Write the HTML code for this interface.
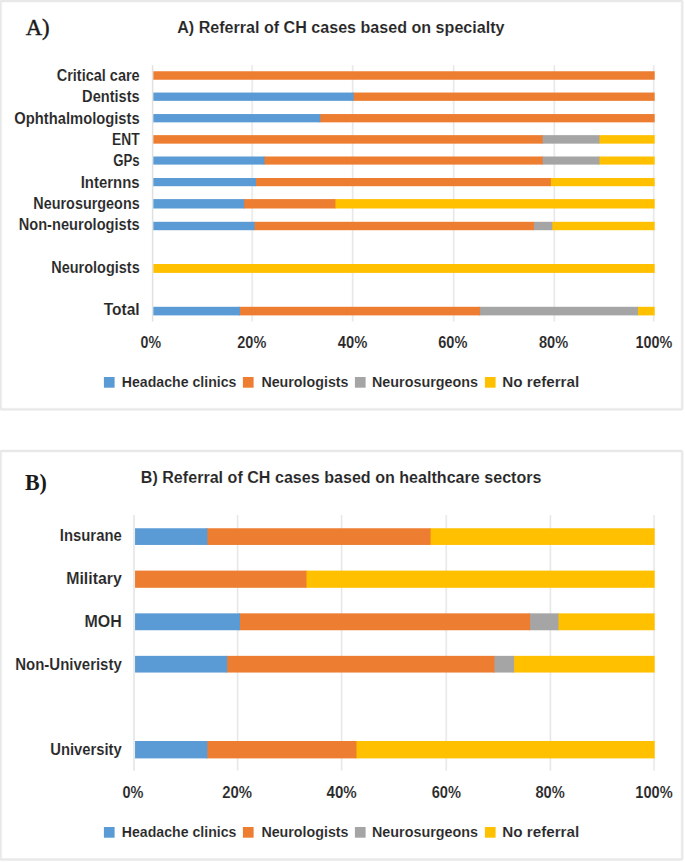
<!DOCTYPE html>
<html lang="en"><head><meta charset="utf-8"><title>Referral of CH cases</title>
<style>
html,body{margin:0;padding:0;background:#fff;}
body{width:685px;height:862px;overflow:hidden;}
svg{display:block;}
</style></head>
<body>
<svg width="685" height="862" viewBox="0 0 685 862">
<rect x="0" y="0" width="685" height="862" fill="#ffffff"/>
<g id="frames-and-grid">
<rect x="0.6" y="1.0" width="681.6" height="408.3" rx="0.8" fill="#fff" stroke="#F6F6F6" stroke-width="3.2"/>
<rect x="0.6" y="1.0" width="681.6" height="408.3" rx="0.8" fill="none" stroke="#E8E8E8" stroke-width="1.8"/>
<rect x="0.6" y="451.0" width="681.6" height="408.5" rx="0.8" fill="#fff" stroke="#F6F6F6" stroke-width="3.2"/>
<rect x="0.6" y="451.0" width="681.6" height="408.5" rx="0.8" fill="none" stroke="#E8E8E8" stroke-width="1.8"/>
<line x1="152.65" y1="65.10" x2="152.65" y2="321.70" stroke="#F7F7F7" stroke-width="2.4"/>
<line x1="152.65" y1="65.50" x2="152.65" y2="321.30" stroke="#DDDDDE" stroke-width="1.0"/>
<line x1="252.10" y1="65.10" x2="252.10" y2="321.70" stroke="#F7F7F7" stroke-width="2.4"/>
<line x1="252.10" y1="65.50" x2="252.10" y2="321.30" stroke="#E5E5E6" stroke-width="1.0"/>
<line x1="352.70" y1="65.10" x2="352.70" y2="321.70" stroke="#F7F7F7" stroke-width="2.4"/>
<line x1="352.70" y1="65.50" x2="352.70" y2="321.30" stroke="#E5E5E6" stroke-width="1.0"/>
<line x1="453.70" y1="65.10" x2="453.70" y2="321.70" stroke="#F7F7F7" stroke-width="2.4"/>
<line x1="453.70" y1="65.50" x2="453.70" y2="321.30" stroke="#E5E5E6" stroke-width="1.0"/>
<line x1="554.30" y1="65.10" x2="554.30" y2="321.70" stroke="#F7F7F7" stroke-width="2.4"/>
<line x1="554.30" y1="65.50" x2="554.30" y2="321.30" stroke="#E5E5E6" stroke-width="1.0"/>
<line x1="653.70" y1="65.10" x2="653.70" y2="321.70" stroke="#F7F7F7" stroke-width="2.4"/>
<line x1="653.70" y1="65.50" x2="653.70" y2="321.30" stroke="#E5E5E6" stroke-width="1.0"/>
<line x1="134.00" y1="514.80" x2="134.00" y2="770.80" stroke="#F7F7F7" stroke-width="2.4"/>
<line x1="134.00" y1="515.20" x2="134.00" y2="770.40" stroke="#DDDDDE" stroke-width="1.0"/>
<line x1="237.60" y1="514.80" x2="237.60" y2="770.80" stroke="#F7F7F7" stroke-width="2.4"/>
<line x1="237.60" y1="515.20" x2="237.60" y2="770.40" stroke="#E5E5E6" stroke-width="1.0"/>
<line x1="341.60" y1="514.80" x2="341.60" y2="770.80" stroke="#F7F7F7" stroke-width="2.4"/>
<line x1="341.60" y1="515.20" x2="341.60" y2="770.40" stroke="#E5E5E6" stroke-width="1.0"/>
<line x1="446.20" y1="514.80" x2="446.20" y2="770.80" stroke="#F7F7F7" stroke-width="2.4"/>
<line x1="446.20" y1="515.20" x2="446.20" y2="770.40" stroke="#E5E5E6" stroke-width="1.0"/>
<line x1="550.40" y1="514.80" x2="550.40" y2="770.80" stroke="#F7F7F7" stroke-width="2.4"/>
<line x1="550.40" y1="515.20" x2="550.40" y2="770.40" stroke="#E5E5E6" stroke-width="1.0"/>
<line x1="654.00" y1="514.80" x2="654.00" y2="770.80" stroke="#F7F7F7" stroke-width="2.4"/>
<line x1="654.00" y1="515.20" x2="654.00" y2="770.40" stroke="#E5E5E6" stroke-width="1.0"/>
</g>
<g id="bars">
<rect x="153.35" y="71.25" width="501.35" height="8.50" fill="#ED7D31"/>
<rect x="352.78" y="92.55" width="301.92" height="8.30" fill="#ED7D31"/>
<rect x="153.35" y="92.55" width="200.33" height="8.30" fill="#5B9BD5"/>
<rect x="319.32" y="114.05" width="335.38" height="8.30" fill="#ED7D31"/>
<rect x="153.35" y="114.05" width="166.87" height="8.30" fill="#5B9BD5"/>
<rect x="598.56" y="135.15" width="56.14" height="8.50" fill="#FFC000"/>
<rect x="541.77" y="135.15" width="57.69" height="8.50" fill="#A5A5A5"/>
<rect x="153.35" y="135.15" width="389.32" height="8.50" fill="#ED7D31"/>
<rect x="598.56" y="156.50" width="56.14" height="8.10" fill="#FFC000"/>
<rect x="541.77" y="156.50" width="57.69" height="8.10" fill="#A5A5A5"/>
<rect x="263.58" y="156.50" width="279.09" height="8.10" fill="#ED7D31"/>
<rect x="153.35" y="156.50" width="111.13" height="8.10" fill="#5B9BD5"/>
<rect x="549.95" y="178.00" width="104.75" height="8.20" fill="#FFC000"/>
<rect x="255.10" y="178.00" width="295.75" height="8.20" fill="#ED7D31"/>
<rect x="153.35" y="178.00" width="102.65" height="8.20" fill="#5B9BD5"/>
<rect x="334.52" y="199.10" width="320.18" height="9.40" fill="#FFC000"/>
<rect x="243.31" y="199.10" width="92.11" height="9.40" fill="#ED7D31"/>
<rect x="153.35" y="199.10" width="90.86" height="9.40" fill="#5B9BD5"/>
<rect x="551.40" y="221.80" width="103.30" height="8.40" fill="#FFC000"/>
<rect x="533.09" y="221.80" width="19.21" height="8.40" fill="#A5A5A5"/>
<rect x="253.69" y="221.80" width="280.30" height="8.40" fill="#ED7D31"/>
<rect x="153.35" y="221.80" width="101.24" height="8.40" fill="#5B9BD5"/>
<rect x="153.35" y="264.00" width="501.35" height="8.90" fill="#FFC000"/>
<rect x="636.99" y="306.80" width="17.71" height="8.60" fill="#FFC000"/>
<rect x="479.21" y="306.80" width="158.68" height="8.60" fill="#A5A5A5"/>
<rect x="239.09" y="306.80" width="241.01" height="8.60" fill="#ED7D31"/>
<rect x="153.35" y="306.80" width="86.64" height="8.60" fill="#5B9BD5"/>
<rect x="103.90" y="377.00" width="10.70" height="10.70" fill="#5B9BD5"/>
<rect x="242.90" y="377.00" width="10.70" height="10.70" fill="#ED7D31"/>
<rect x="354.90" y="377.00" width="10.70" height="10.70" fill="#A5A5A5"/>
<rect x="484.90" y="377.00" width="10.70" height="10.70" fill="#FFC000"/>
<rect x="429.68" y="528.25" width="225.02" height="16.70" fill="#FFC000"/>
<rect x="206.50" y="528.25" width="224.08" height="16.70" fill="#ED7D31"/>
<rect x="135.05" y="528.25" width="72.35" height="16.70" fill="#5B9BD5"/>
<rect x="305.61" y="570.60" width="349.09" height="17.20" fill="#FFC000"/>
<rect x="135.05" y="570.60" width="171.46" height="17.20" fill="#ED7D31"/>
<rect x="557.60" y="613.35" width="97.10" height="16.90" fill="#FFC000"/>
<rect x="529.21" y="613.35" width="29.29" height="16.90" fill="#A5A5A5"/>
<rect x="239.10" y="613.35" width="291.01" height="16.90" fill="#ED7D31"/>
<rect x="135.05" y="613.35" width="104.95" height="16.90" fill="#5B9BD5"/>
<rect x="513.19" y="655.85" width="141.51" height="16.70" fill="#FFC000"/>
<rect x="493.59" y="655.85" width="20.50" height="16.70" fill="#A5A5A5"/>
<rect x="226.31" y="655.85" width="268.18" height="16.70" fill="#ED7D31"/>
<rect x="135.05" y="655.85" width="92.16" height="16.70" fill="#5B9BD5"/>
<rect x="355.58" y="741.00" width="299.12" height="17.40" fill="#FFC000"/>
<rect x="206.50" y="741.00" width="149.98" height="17.40" fill="#ED7D31"/>
<rect x="135.05" y="741.00" width="72.35" height="17.40" fill="#5B9BD5"/>
<rect x="103.90" y="827.00" width="10.70" height="10.70" fill="#5B9BD5"/>
<rect x="242.90" y="827.00" width="10.70" height="10.70" fill="#ED7D31"/>
<rect x="354.90" y="827.00" width="10.70" height="10.70" fill="#A5A5A5"/>
<rect x="484.90" y="827.00" width="10.70" height="10.70" fill="#FFC000"/>
</g>
<g id="labels">
<text x="25.70" y="34.90" font-family="'Liberation Serif', 'Times New Roman', serif" font-size="23" font-weight="normal" fill="#1a1a1a" text-anchor="start" textLength="24.00" lengthAdjust="spacingAndGlyphs" stroke="#1a1a1a" stroke-width="0.45">A)</text>
<text x="177.20" y="32.80" font-family="'Liberation Sans', Arial, sans-serif" font-size="17.3" font-weight="bold" fill="#262626" text-anchor="start" textLength="327.30" lengthAdjust="spacingAndGlyphs" stroke="#ffffff" stroke-width="0.12" stroke-linejoin="round">A) Referral of CH cases based on specialty</text>
<text x="139.70" y="81.20" font-family="'Liberation Sans', Arial, sans-serif" font-size="16.4" font-weight="bold" fill="#262626" text-anchor="end" textLength="83.00" lengthAdjust="spacingAndGlyphs" stroke="#ffffff" stroke-width="0.12" stroke-linejoin="round">Critical care</text>
<text x="139.70" y="102.48" font-family="'Liberation Sans', Arial, sans-serif" font-size="16.4" font-weight="bold" fill="#262626" text-anchor="end" textLength="57.60" lengthAdjust="spacingAndGlyphs" stroke="#ffffff" stroke-width="0.12" stroke-linejoin="round">Dentists</text>
<text x="139.70" y="123.76" font-family="'Liberation Sans', Arial, sans-serif" font-size="16.4" font-weight="bold" fill="#262626" text-anchor="end" textLength="125.40" lengthAdjust="spacingAndGlyphs" stroke="#ffffff" stroke-width="0.12" stroke-linejoin="round">Ophthalmologists</text>
<text x="139.70" y="145.04" font-family="'Liberation Sans', Arial, sans-serif" font-size="16.4" font-weight="bold" fill="#262626" text-anchor="end" textLength="27.60" lengthAdjust="spacingAndGlyphs" stroke="#ffffff" stroke-width="0.12" stroke-linejoin="round">ENT</text>
<text x="139.70" y="166.32" font-family="'Liberation Sans', Arial, sans-serif" font-size="16.4" font-weight="bold" fill="#262626" text-anchor="end" textLength="26.50" lengthAdjust="spacingAndGlyphs" stroke="#ffffff" stroke-width="0.12" stroke-linejoin="round">GPs</text>
<text x="139.70" y="187.60" font-family="'Liberation Sans', Arial, sans-serif" font-size="16.4" font-weight="bold" fill="#262626" text-anchor="end" textLength="59.00" lengthAdjust="spacingAndGlyphs" stroke="#ffffff" stroke-width="0.12" stroke-linejoin="round">Internns</text>
<text x="139.70" y="208.88" font-family="'Liberation Sans', Arial, sans-serif" font-size="16.4" font-weight="bold" fill="#262626" text-anchor="end" textLength="106.40" lengthAdjust="spacingAndGlyphs" stroke="#ffffff" stroke-width="0.12" stroke-linejoin="round">Neurosurgeons</text>
<text x="139.70" y="230.16" font-family="'Liberation Sans', Arial, sans-serif" font-size="16.4" font-weight="bold" fill="#262626" text-anchor="end" textLength="121.00" lengthAdjust="spacingAndGlyphs" stroke="#ffffff" stroke-width="0.12" stroke-linejoin="round">Non-neurologists</text>
<text x="139.70" y="272.72" font-family="'Liberation Sans', Arial, sans-serif" font-size="16.4" font-weight="bold" fill="#262626" text-anchor="end" textLength="88.40" lengthAdjust="spacingAndGlyphs" stroke="#ffffff" stroke-width="0.12" stroke-linejoin="round">Neurologists</text>
<text x="139.70" y="315.28" font-family="'Liberation Sans', Arial, sans-serif" font-size="16.4" font-weight="bold" fill="#262626" text-anchor="end" textLength="36.00" lengthAdjust="spacingAndGlyphs" stroke="#ffffff" stroke-width="0.12" stroke-linejoin="round">Total</text>
<text x="150.80" y="348.00" font-family="'Liberation Sans', Arial, sans-serif" font-size="16.4" font-weight="bold" fill="#262626" text-anchor="middle" textLength="20.50" lengthAdjust="spacingAndGlyphs" stroke="#ffffff" stroke-width="0.12" stroke-linejoin="round">0%</text>
<text x="251.80" y="348.00" font-family="'Liberation Sans', Arial, sans-serif" font-size="16.4" font-weight="bold" fill="#262626" text-anchor="middle" textLength="29.00" lengthAdjust="spacingAndGlyphs" stroke="#ffffff" stroke-width="0.12" stroke-linejoin="round">20%</text>
<text x="352.50" y="348.00" font-family="'Liberation Sans', Arial, sans-serif" font-size="16.4" font-weight="bold" fill="#262626" text-anchor="middle" textLength="29.50" lengthAdjust="spacingAndGlyphs" stroke="#ffffff" stroke-width="0.12" stroke-linejoin="round">40%</text>
<text x="452.80" y="348.00" font-family="'Liberation Sans', Arial, sans-serif" font-size="16.4" font-weight="bold" fill="#262626" text-anchor="middle" textLength="29.20" lengthAdjust="spacingAndGlyphs" stroke="#ffffff" stroke-width="0.12" stroke-linejoin="round">60%</text>
<text x="553.60" y="348.00" font-family="'Liberation Sans', Arial, sans-serif" font-size="16.4" font-weight="bold" fill="#262626" text-anchor="middle" textLength="29.20" lengthAdjust="spacingAndGlyphs" stroke="#ffffff" stroke-width="0.12" stroke-linejoin="round">80%</text>
<text x="654.00" y="348.00" font-family="'Liberation Sans', Arial, sans-serif" font-size="16.4" font-weight="bold" fill="#262626" text-anchor="middle" textLength="36.80" lengthAdjust="spacingAndGlyphs" stroke="#ffffff" stroke-width="0.12" stroke-linejoin="round">100%</text>
<text x="121.80" y="387.30" font-family="'Liberation Sans', Arial, sans-serif" font-size="15.3" font-weight="bold" fill="#262626" text-anchor="start" textLength="114.60" lengthAdjust="spacingAndGlyphs" stroke="#ffffff" stroke-width="0.12" stroke-linejoin="round">Headache clinics</text>
<text x="261.40" y="387.30" font-family="'Liberation Sans', Arial, sans-serif" font-size="15.3" font-weight="bold" fill="#262626" text-anchor="start" textLength="87.10" lengthAdjust="spacingAndGlyphs" stroke="#ffffff" stroke-width="0.12" stroke-linejoin="round">Neurologists</text>
<text x="372.00" y="387.30" font-family="'Liberation Sans', Arial, sans-serif" font-size="15.3" font-weight="bold" fill="#262626" text-anchor="start" textLength="106.00" lengthAdjust="spacingAndGlyphs" stroke="#ffffff" stroke-width="0.12" stroke-linejoin="round">Neurosurgeons</text>
<text x="502.30" y="387.30" font-family="'Liberation Sans', Arial, sans-serif" font-size="15.3" font-weight="bold" fill="#262626" text-anchor="start" textLength="76.90" lengthAdjust="spacingAndGlyphs" stroke="#ffffff" stroke-width="0.12" stroke-linejoin="round">No referral</text>
<text x="24.90" y="489.90" font-family="'Liberation Serif', 'Times New Roman', serif" font-size="23" font-weight="bold" fill="#1a1a1a" text-anchor="start" textLength="22.00" lengthAdjust="spacingAndGlyphs">B)</text>
<text x="140.80" y="483.00" font-family="'Liberation Sans', Arial, sans-serif" font-size="17.3" font-weight="bold" fill="#262626" text-anchor="start" textLength="400.70" lengthAdjust="spacingAndGlyphs" stroke="#ffffff" stroke-width="0.12" stroke-linejoin="round">B) Referral of CH cases based on healthcare sectors</text>
<text x="121.80" y="541.10" font-family="'Liberation Sans', Arial, sans-serif" font-size="16.4" font-weight="bold" fill="#262626" text-anchor="end" textLength="62.00" lengthAdjust="spacingAndGlyphs" stroke="#ffffff" stroke-width="0.12" stroke-linejoin="round">Insurane</text>
<text x="121.80" y="583.95" font-family="'Liberation Sans', Arial, sans-serif" font-size="16.4" font-weight="bold" fill="#262626" text-anchor="end" textLength="55.60" lengthAdjust="spacingAndGlyphs" stroke="#ffffff" stroke-width="0.12" stroke-linejoin="round">Military</text>
<text x="121.80" y="626.80" font-family="'Liberation Sans', Arial, sans-serif" font-size="16.4" font-weight="bold" fill="#262626" text-anchor="end" textLength="37.20" lengthAdjust="spacingAndGlyphs" stroke="#ffffff" stroke-width="0.12" stroke-linejoin="round">MOH</text>
<text x="121.80" y="669.65" font-family="'Liberation Sans', Arial, sans-serif" font-size="16.4" font-weight="bold" fill="#262626" text-anchor="end" textLength="106.60" lengthAdjust="spacingAndGlyphs" stroke="#ffffff" stroke-width="0.12" stroke-linejoin="round">Non-Univeristy</text>
<text x="121.80" y="755.35" font-family="'Liberation Sans', Arial, sans-serif" font-size="16.4" font-weight="bold" fill="#262626" text-anchor="end" textLength="71.60" lengthAdjust="spacingAndGlyphs" stroke="#ffffff" stroke-width="0.12" stroke-linejoin="round">University</text>
<text x="133.00" y="797.80" font-family="'Liberation Sans', Arial, sans-serif" font-size="16.4" font-weight="bold" fill="#262626" text-anchor="middle" textLength="21.00" lengthAdjust="spacingAndGlyphs" stroke="#ffffff" stroke-width="0.12" stroke-linejoin="round">0%</text>
<text x="237.20" y="797.80" font-family="'Liberation Sans', Arial, sans-serif" font-size="16.4" font-weight="bold" fill="#262626" text-anchor="middle" textLength="29.80" lengthAdjust="spacingAndGlyphs" stroke="#ffffff" stroke-width="0.12" stroke-linejoin="round">20%</text>
<text x="341.70" y="797.80" font-family="'Liberation Sans', Arial, sans-serif" font-size="16.4" font-weight="bold" fill="#262626" text-anchor="middle" textLength="30.20" lengthAdjust="spacingAndGlyphs" stroke="#ffffff" stroke-width="0.12" stroke-linejoin="round">40%</text>
<text x="446.30" y="797.80" font-family="'Liberation Sans', Arial, sans-serif" font-size="16.4" font-weight="bold" fill="#262626" text-anchor="middle" textLength="29.30" lengthAdjust="spacingAndGlyphs" stroke="#ffffff" stroke-width="0.12" stroke-linejoin="round">60%</text>
<text x="550.10" y="797.80" font-family="'Liberation Sans', Arial, sans-serif" font-size="16.4" font-weight="bold" fill="#262626" text-anchor="middle" textLength="29.30" lengthAdjust="spacingAndGlyphs" stroke="#ffffff" stroke-width="0.12" stroke-linejoin="round">80%</text>
<text x="654.00" y="797.80" font-family="'Liberation Sans', Arial, sans-serif" font-size="16.4" font-weight="bold" fill="#262626" text-anchor="middle" textLength="37.30" lengthAdjust="spacingAndGlyphs" stroke="#ffffff" stroke-width="0.12" stroke-linejoin="round">100%</text>
<text x="121.80" y="837.30" font-family="'Liberation Sans', Arial, sans-serif" font-size="15.3" font-weight="bold" fill="#262626" text-anchor="start" textLength="114.60" lengthAdjust="spacingAndGlyphs" stroke="#ffffff" stroke-width="0.12" stroke-linejoin="round">Headache clinics</text>
<text x="261.40" y="837.30" font-family="'Liberation Sans', Arial, sans-serif" font-size="15.3" font-weight="bold" fill="#262626" text-anchor="start" textLength="87.10" lengthAdjust="spacingAndGlyphs" stroke="#ffffff" stroke-width="0.12" stroke-linejoin="round">Neurologists</text>
<text x="372.00" y="837.30" font-family="'Liberation Sans', Arial, sans-serif" font-size="15.3" font-weight="bold" fill="#262626" text-anchor="start" textLength="106.00" lengthAdjust="spacingAndGlyphs" stroke="#ffffff" stroke-width="0.12" stroke-linejoin="round">Neurosurgeons</text>
<text x="502.30" y="837.30" font-family="'Liberation Sans', Arial, sans-serif" font-size="15.3" font-weight="bold" fill="#262626" text-anchor="start" textLength="76.90" lengthAdjust="spacingAndGlyphs" stroke="#ffffff" stroke-width="0.12" stroke-linejoin="round">No referral</text>
</g>
</svg>
</body></html>
